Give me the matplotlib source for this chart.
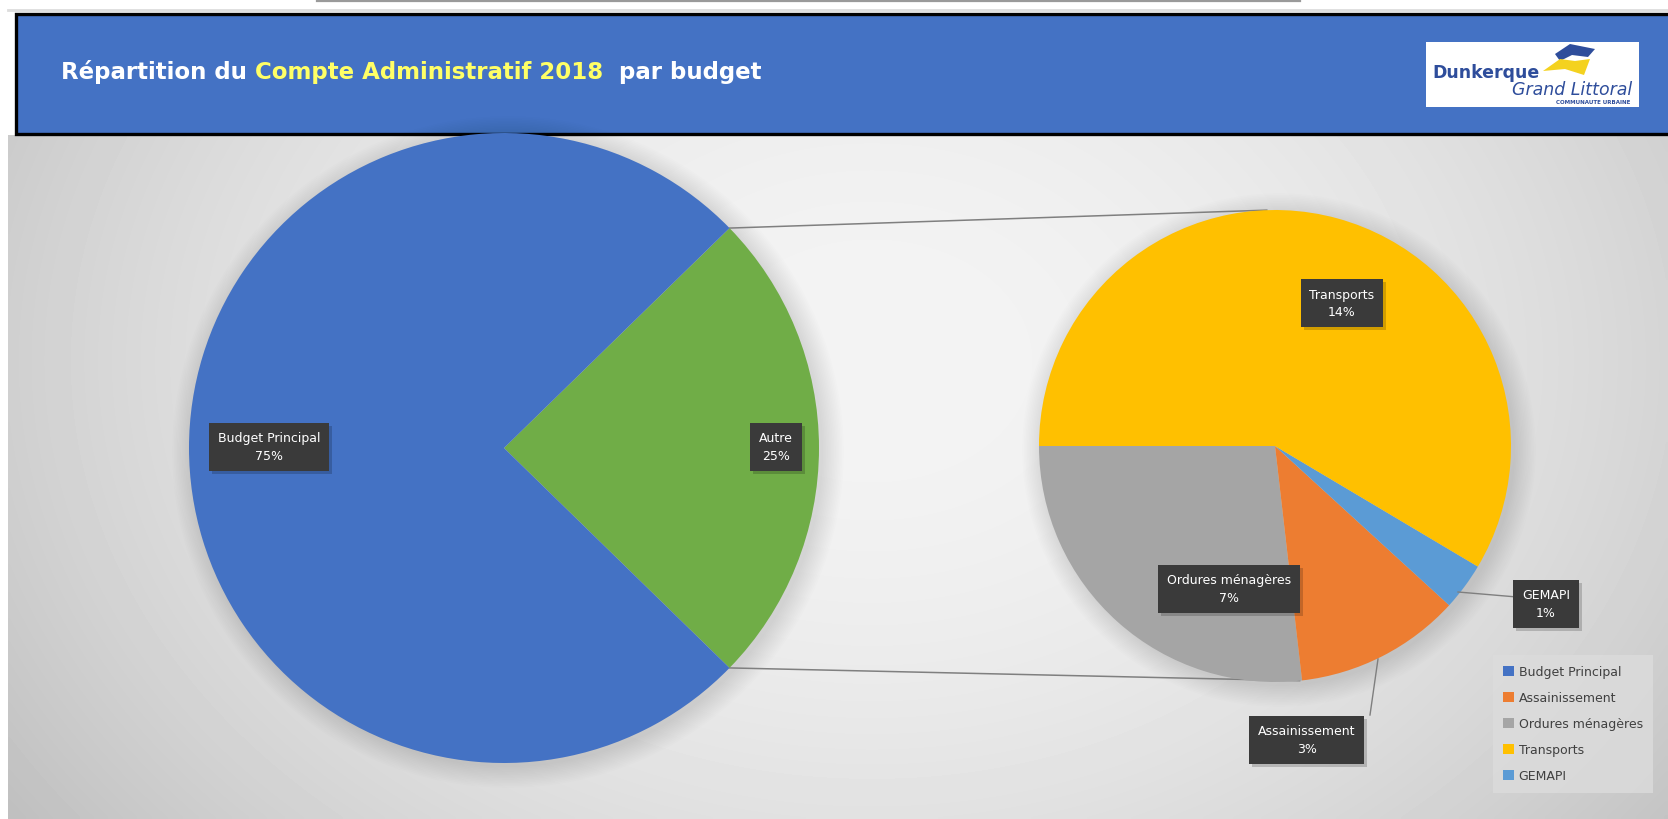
import numpy as np
import matplotlib
matplotlib.use("Agg")
import matplotlib.pyplot as plt
from matplotlib.patches import Rectangle, Circle, Polygon

# ---------------- data ----------------
main_labels = ["Budget Principal", "Autre"]
budget_principal = 75.4
sub_labels = ["Ordures ménagères", "Assainissement", "GEMAPI", "Transports"]
sub_values = [6.6, 2.8, 0.8, 14.4]
legend_labels = ["Budget Principal", "Assainissement", "Ordures ménagères", "Transports", "GEMAPI"]
title_parts = ["Répartition du ", "Compte Administratif 2018", "  par budget"]

# ---------------- style ----------------
C = {"Budget Principal": "#4472C4", "Autre": "#70AD47", "Assainissement": "#ED7D31",
     "Ordures ménagères": "#A5A5A5", "Transports": "#FFC000", "GEMAPI": "#5B9BD5"}

W, H = 1668, 820
fig = plt.figure(figsize=(W / 100, H / 100), dpi=100)
fig.patch.set_facecolor("white")
ax = fig.add_axes([0, 0, 1, 1])


def Y(y):
    return H - y


# background gradient
gy, gx = np.mgrid[136:820:4, 8:1668:4]
d = np.sqrt(((gx - 870) / 950.0) ** 2 + ((gy - 360) / 720.0) ** 2)
img = 0.955 - 0.17 * np.clip(d, 0, 1.1) ** 1.9
ax.imshow(img, extent=(8, W, Y(820), Y(136)), origin="upper", cmap="gray",
          vmin=0, vmax=1, aspect="auto", interpolation="bilinear", zorder=0)

# top line and banner
ax.plot([317, 1300], [Y(2), Y(2)], color="#9a9a9a", lw=1.6, zorder=1)
ax.plot([8, W], [Y(11), Y(11)], color="#dddddd", lw=2, zorder=1)
ax.add_patch(Rectangle((16, Y(135)), W, 120, fc="#4472C4", ec="black", lw=2.4, zorder=2))

# title in three colours
renderer = fig.canvas.get_renderer()
x = 61
for part, col in zip(title_parts, ["white", "#FFFF66", "white"]):
    t = ax.text(x, Y(72), part, color=col, fontsize=16.5, fontweight="bold",
                family="DejaVu Sans", va="center", ha="left", zorder=3)
    bb = t.get_window_extent(renderer=renderer)
    x += bb.width

# logo
ax.add_patch(Rectangle((1426, Y(108)), 213, 65, fc="white", ec="none", zorder=3))
ax.add_patch(Polygon([(1555, Y(55)), (1570, Y(45)), (1595, Y(50)), (1588, Y(58)), (1572, Y(56)), (1560, Y(62))],
                     closed=True, fc="#2E4D9B", ec="none", zorder=4))
ax.add_patch(Polygon([(1543, Y(72)), (1560, Y(60)), (1575, Y(62)), (1590, Y(60)), (1584, Y(76)), (1565, Y(70))],
                     closed=True, fc="#F4D21F", ec="none", zorder=4))
ax.text(1432, Y(73), "Dunkerque", color="#2E4D9B", fontsize=12.5, fontweight="bold",
        va="center", ha="left", zorder=5)
ax.text(1632, Y(90), "Grand Littoral", color="#2E4D9B", fontsize=12.5, style="italic",
        va="center", ha="right", zorder=5)
ax.text(1630, Y(103), "COMMUNAUTE URBAINE", color="#2E4D9B", fontsize=4, fontweight="bold",
        va="center", ha="right", zorder=5)

# pies
autre = sum(sub_values)
total = budget_principal + autre
ang = autre / total * 360.0
big_c, big_r = (504, Y(449)), 315
small_c, small_r = (1275, Y(447)), 236

for (cx, cy), r in [(big_c, big_r), (small_c, small_r)]:
    for i in range(14):
        ax.add_patch(Circle((cx + 4, cy - 4), r + i * 1.6, fc="black", ec="none", alpha=0.007, zorder=4))

ax.pie([autre, budget_principal], colors=[C["Autre"], C["Budget Principal"]],
       startangle=-ang / 2, counterclock=True, center=big_c, radius=big_r, frame=True,
       wedgeprops=dict(linewidth=0, zorder=5))
ax.pie(sub_values, colors=[C[l] for l in sub_labels], startangle=180, counterclock=True,
       center=small_c, radius=small_r, frame=True, wedgeprops=dict(linewidth=0, zorder=5))


def edge(c, r, a):
    return c[0] + r * np.cos(np.radians(a)), c[1] + r * np.sin(np.radians(a))


for a_big, a_small in [(ang / 2, 92), (-ang / 2, -84)]:
    p1 = edge(big_c, big_r, a_big)
    p2 = edge(small_c, small_r, a_small)
    ax.plot([p1[0], p2[0]], [p1[1], p2[1]], color="#7f7f7f", lw=1.1, zorder=4)

# leader lines
ax.plot([1458, 1517], [Y(593), Y(598)], color="#7f7f7f", lw=1.0, zorder=6)
ax.plot([1378, 1370], [Y(660), Y(716)], color="#7f7f7f", lw=1.0, zorder=6)


def pct(v):
    return f"{round(v / total * 100):.0f}%"


label_pos = {"Budget Principal": (269, 448), "Autre": (776, 448), "Transports": (1342, 304),
             "Ordures ménagères": (1229, 590), "GEMAPI": (1546, 605), "Assainissement": (1307, 741)}
vals = dict(zip(sub_labels, sub_values))
vals["Budget Principal"] = budget_principal
vals["Autre"] = autre

for name, (px, py) in label_pos.items():
    s = f"{name}\n{pct(vals[name])}"
    ax.text(px + 3, Y(py) - 3, s, color=(0, 0, 0, 0), fontsize=9, ha="center", va="center",
            linespacing=1.5, zorder=7,
            bbox=dict(boxstyle="square,pad=0.7", fc=(0, 0, 0, 0.18), ec="none"))
    ax.text(px, Y(py), s, color="white", fontsize=9, ha="center", va="center",
            linespacing=1.5, zorder=8,
            bbox=dict(boxstyle="square,pad=0.7", fc="#3a3a3a", ec="none"))

# legend
handles = [Rectangle((0, 0), 1, 1, fc=C[l], ec="none") for l in legend_labels]
leg = ax.legend(handles, legend_labels, loc="upper left",
                bbox_to_anchor=(1493 / W, 1 - 656 / H), bbox_transform=fig.transFigure,
                frameon=True, fancybox=False, borderaxespad=0, fontsize=9,
                labelspacing=1.05, handlelength=0.85, handleheight=0.85, handletextpad=0.4,
                borderpad=0.8)
leg.get_frame().set_facecolor("#dcdcdc")
leg.get_frame().set_edgecolor("none")
for t in leg.get_texts():
    t.set_color("#404040")
leg.set_zorder(9)

ax.set_xlim(0, W)
ax.set_ylim(0, H)
ax.set_aspect("auto")
ax.set_axis_off()
fig.savefig("out.png", dpi=100, facecolor="white")
